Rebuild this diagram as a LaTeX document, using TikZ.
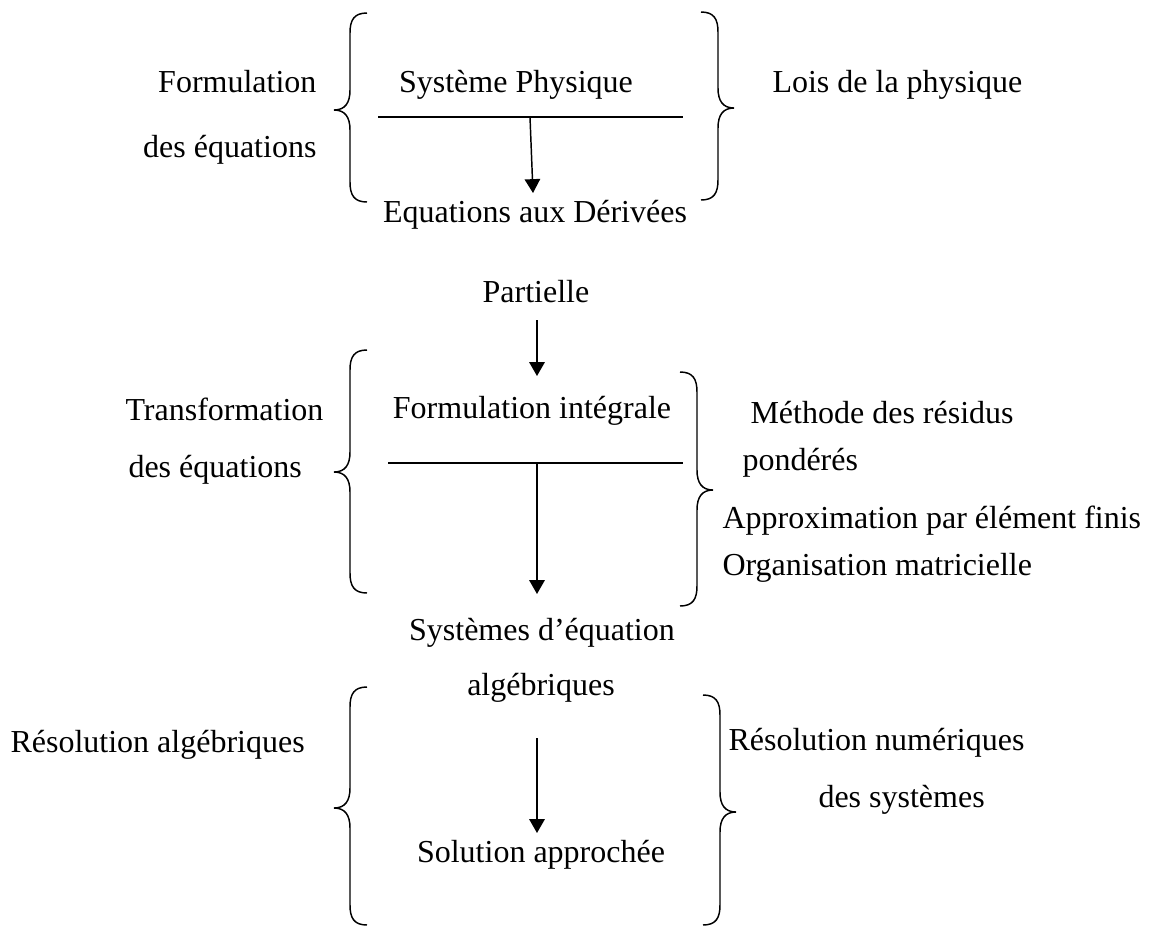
\documentclass[tikz,border=0pt]{standalone}
\usepackage{fontspec}
\setmainfont{Liberation Serif}
\usepackage{tikz}
\usetikzlibrary{arrows.meta, positioning, calc}

% curly bracket opening to the right: stem x, top y, tip y, bottom y
\newcommand{\curlleft}[4]{%
  \draw[curl] (#1+17,#2) .. controls (#1+4,#2) and (#1,#2+7) .. (#1,#2+20)
    -- (#1,#3-20) .. controls (#1,#3-7) and (#1-5,#3) .. (#1-16,#3)
    .. controls (#1-5,#3) and (#1,#3+7) .. (#1,#3+20)
    -- (#1,#4-20) .. controls (#1,#4-7) and (#1+4,#4) .. (#1+17,#4);}
% curly bracket opening to the left: stem x, top y, tip y, bottom y
\newcommand{\curlright}[4]{%
  \draw[curl] (#1-17,#2) .. controls (#1-4,#2) and (#1,#2+7) .. (#1,#2+20)
    -- (#1,#3-20) .. controls (#1,#3-7) and (#1+5,#3) .. (#1+16,#3)
    .. controls (#1+5,#3) and (#1,#3+7) .. (#1,#3+20)
    -- (#1,#4-20) .. controls (#1,#4-7) and (#1-4,#4) .. (#1-17,#4);}

\begin{document}
\begin{tikzpicture}[
    x=0.375pt, y=-0.375pt,
    font=\fontsize{12}{14.4}\selectfont,
    txt/.style={inner sep=0pt, anchor=base},
    lbl/.style={txt, anchor=base east},
    note/.style={txt, anchor=base west},
    curl/.style={line width=0.55pt},
    rule/.style={line width=0.55pt},
    flow/.style={line width=0.55pt, -{Triangle[length=5.2pt,width=5.8pt]}}
]
    \useasboundingbox (0,0) rectangle (1152,927);

    % Top block
    \node[txt] (sys) at (516,92) {Système Physique};
    \node[txt] (edp) at (535,222) {Equations aux Dérivées};
    \node[lbl] (form1) at (317,92) {Formulation};
    \node[lbl] (form2) at (317,157) {des équations};
    \node[note] (lois) at (772,92) {Lois de la physique};
    \coordinate (r1w) at (378,117);
    \coordinate (r1e) at (683,117);
    \coordinate (a1s) at (530,117);
    \coordinate (a1e) at (533,193);
    \draw[rule] (r1w) -- (r1e);
    \draw[flow] (a1s) -- (a1e);
    \curlleft{350}{13}{110}{202}
    \curlright{718}{12}{108}{200}

    % Partielle
    \node[txt] (part) at (536,302) {Partielle};
    \coordinate (a2s) at (537,320);
    \coordinate (a2e) at (537,376);
    \draw[flow] (a2s) -- (a2e);

    % Middle block
    \node[txt] (fint) at (532,418) {Formulation intégrale};
    \node[note] (trans1) at (125,420) {Transformation};
    \node[note] (trans2) at (128,477) {des équations};
    \node[note] (meth1) at (750,423) {Méthode des résidus};
    \node[note] (meth2) at (742,470) {pondérés};
    \node[note] (approx) at (722,528) {Approximation par élément finis};
    \node[note] (orga) at (722,575) {Organisation matricielle};
    \coordinate (r2w) at (388,463);
    \coordinate (r2e) at (683,463);
    \coordinate (a3s) at (537,463);
    \coordinate (a3e) at (537,594);
    \draw[rule] (r2w) -- (r2e);
    \draw[flow] (a3s) -- (a3e);
    \curlleft{350}{350}{472}{593}
    \curlright{697}{372}{490}{606}

    % Algebraic systems
    \node[txt] (alg1) at (542,640) {Systèmes d’équation};
    \node[txt] (alg2) at (541,695) {algébriques};

    % Bottom block
    \node[txt] (sol) at (541,862) {Solution approchée};
    \node[note] (resa) at (10,752) {Résolution algébriques};
    \node[note] (resn1) at (728,750) {Résolution numériques};
    \node[note] (resn2) at (818,807) {des systèmes};
    \coordinate (a4s) at (537,738);
    \coordinate (a4e) at (537,833);
    \draw[flow] (a4s) -- (a4e);
    \curlleft{350}{687}{808}{925}
    \curlright{720}{695}{812}{925}

\end{tikzpicture}
\end{document}
